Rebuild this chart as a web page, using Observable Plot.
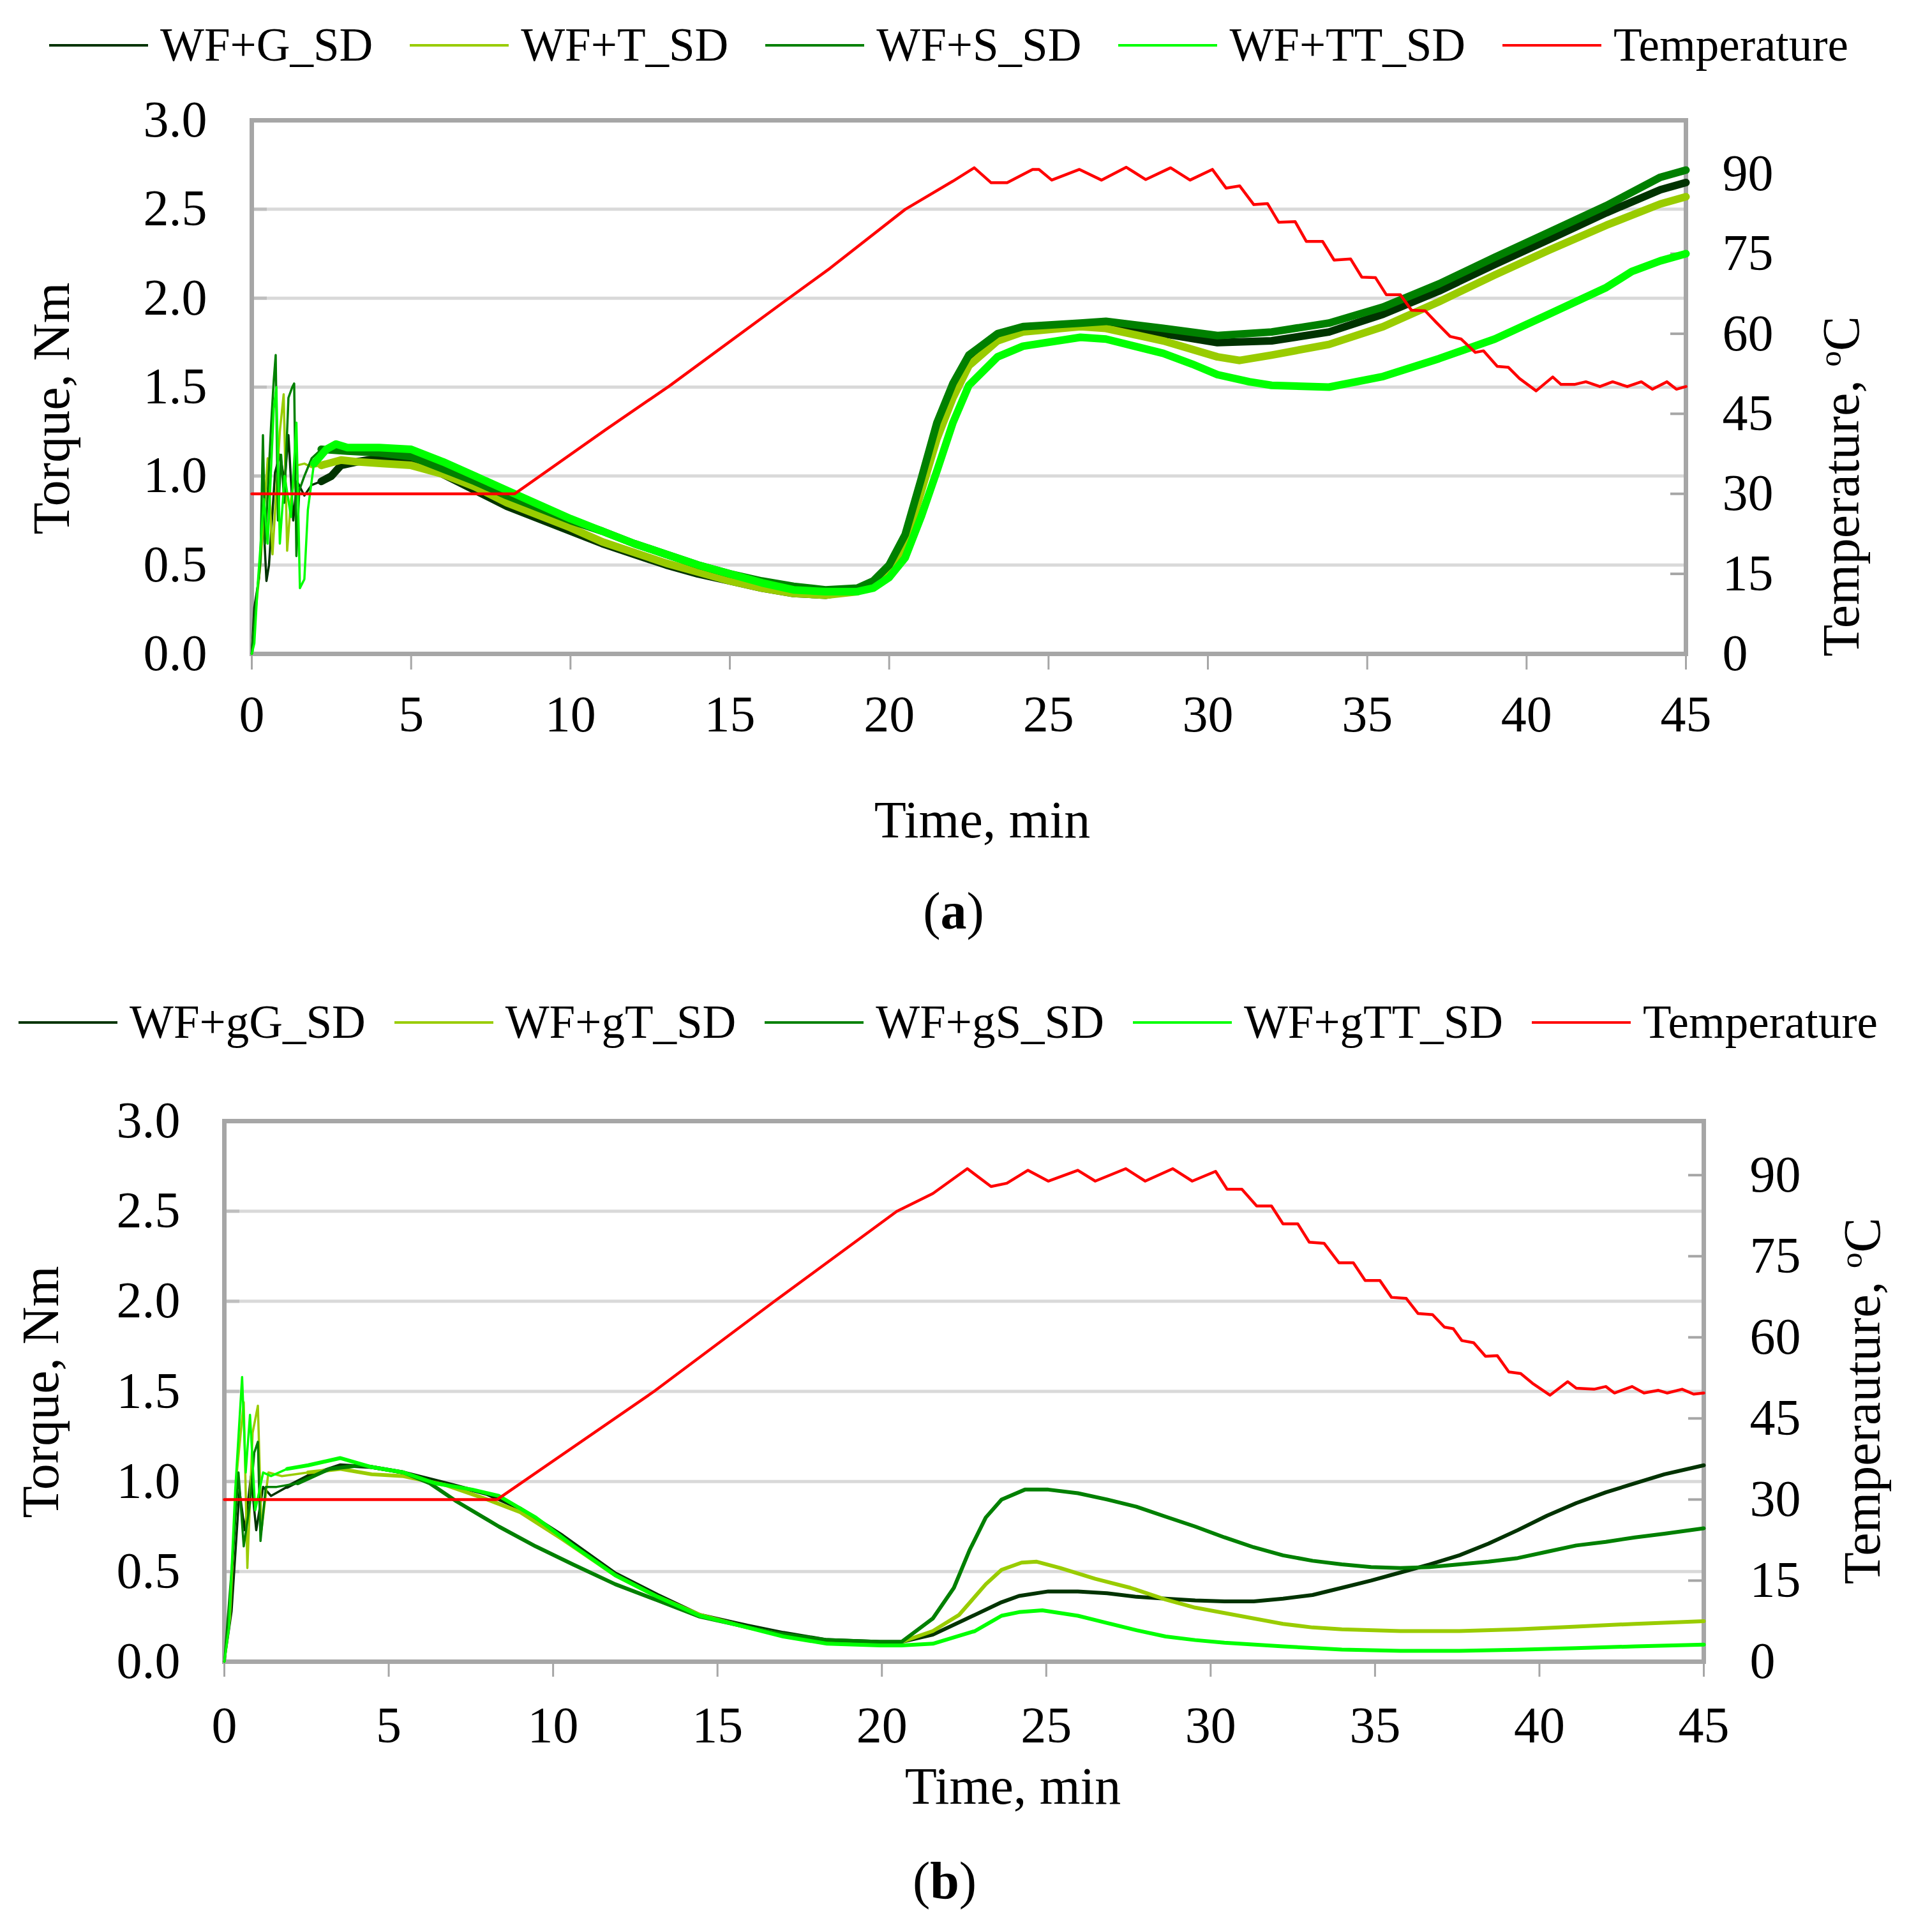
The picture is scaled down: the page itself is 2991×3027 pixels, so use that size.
<!DOCTYPE html>
<html>
<head>
<meta charset="utf-8">
<script src="https://cdn.jsdelivr.net/npm/d3@7"></script>
<script src="https://cdn.jsdelivr.net/npm/@observablehq/plot@0.6"></script>
<style>
  body { margin: 0; background: #fff; }
  #page { position: relative; width: 2991px; height: 3027px; background: #fff; overflow: hidden;
          font-family: "Liberation Serif", "Times New Roman", serif; color: #000; }
  .chart { position: absolute; left: 0; }
  .legend { position: absolute; height: 100px; display: flex; align-items: center; font-size: 73px; white-space: nowrap; }
  .legend .item { display: flex; align-items: center; }
  .legend .sw { width: 155px; height: 4px; margin-right: 19px; }
  .lbl { position: absolute; font-size: 82px; white-space: nowrap; transform: translate(-50%, -50%); }
  .rot { transform: translate(-50%, -50%) rotate(-90deg); }
  sup { font-size: 0.6em; }
</style>
</head>
<body>
<div id="page">
  <div class="legend" id="legA" style="left:77px; top:21px;"></div>
  <div class="chart" id="chartA" style="top:150px;"></div>
  <div class="lbl rot" style="left:81px; top:640px;">Torque, Nm</div>
  <div class="lbl rot" style="left:2885px; top:762px;">Temperature, <sup>o</sup>C</div>
  <div class="lbl" style="left:1539px; top:1285px;">Time, min</div>
  <div class="lbl" style="left:1494px; top:1428px;">(<b>a</b>)</div>

  <div class="legend" id="legB" style="left:29px; top:1552px;"></div>
  <div class="chart" id="chartB" style="top:1700px;"></div>
  <div class="lbl rot" style="left:64px; top:2181px;">Torque, Nm</div>
  <div class="lbl rot" style="left:2918px; top:2195px;">Temperauture, <sup>o</sup>C</div>
  <div class="lbl" style="left:1587px; top:2799px;">Time, min</div>
  <div class="lbl" style="left:1480px; top:2947px;">(<b>b</b>)</div>
</div>
<script>
// ticks
const timeTicks = [0, 5, 10, 15, 20, 25, 30, 35, 40, 45];
const torqueTicks = [0, 0.5, 1.0, 1.5, 2.0, 2.5, 3.0];
const tempTicks = [0, 15, 30, 45, 60, 75, 90];

// series names / colours
const namesA = ["WF+G_SD", "WF+T_SD", "WF+S_SD", "WF+TT_SD", "Temperature"];
const namesB = ["WF+gG_SD", "WF+gT_SD", "WF+gS_SD", "WF+gTT_SD", "Temperature"];
const colors = ["#003300", "#99cc00", "#008000", "#00ff00", "#ff0000"];

// (a) torque, [time min, Nm]
const aG = [[0,0],[0.08,0.26],[0.23,0.43],[0.35,0.81],[0.46,0.41],[0.54,0.5],[0.73,1.02],[0.88,1.12],[1.03,0.97],[1.15,1.23],[1.3,0.75],[1.42,0.97],[1.65,0.89],[1.88,0.95],[2.18,0.97],[2.5,1.0],[2.8,1.06],[3.3,1.08],[4,1.1],[5,1.09],[6,1.01],[7,0.92],[8,0.83],[9,0.76],[10,0.69],[11,0.62],[12,0.56],[13,0.5],[14,0.45],[15,0.41],[16,0.37],[17,0.34],[18,0.33],[19,0.36],[19.5,0.4],[20,0.48],[20.5,0.65],[21,0.96],[21.5,1.28],[22,1.5],[22.5,1.66],[23.4,1.79],[24.2,1.83],[26,1.85],[26.8,1.85],[28.6,1.8],[30.3,1.75],[32,1.76],[33.8,1.81],[35.5,1.91],[37.25,2.04],[39,2.19],[40.7,2.33],[42.5,2.48],[44.2,2.61],[45,2.65]];
const aT = [[0,0],[0.12,0.24],[0.27,0.5],[0.5,1.1],[0.65,0.56],[0.88,1.25],[1.0,1.46],[1.11,0.58],[1.23,0.87],[1.42,1.06],[1.65,1.07],[1.88,1.05],[2.18,1.06],[2.8,1.09],[3.3,1.08],[4.1,1.07],[5,1.06],[6,1.01],[7,0.94],[8,0.85],[9,0.78],[10,0.71],[11,0.63],[12,0.57],[13,0.51],[14,0.46],[15,0.41],[16,0.37],[17,0.34],[18,0.33],[19,0.35],[19.5,0.39],[20,0.46],[20.5,0.61],[21,0.91],[21.5,1.21],[22,1.44],[22.5,1.62],[23.4,1.76],[24.2,1.81],[26,1.84],[26.8,1.83],[28.6,1.76],[30.3,1.67],[31,1.65],[32,1.68],[33.8,1.74],[35.5,1.84],[37.25,1.98],[39,2.13],[40.7,2.27],[42.5,2.41],[44.2,2.53],[45,2.57]];
const aS = [[0,0],[0.12,0.27],[0.27,0.52],[0.35,1.23],[0.42,0.62],[0.61,1.3],[0.69,1.54],[0.75,1.68],[0.82,0.75],[0.92,1.12],[1.02,0.85],[1.15,1.44],[1.27,1.5],[1.33,1.52],[1.4,0.55],[1.49,0.92],[1.65,1.0],[1.88,1.1],[2.18,1.15],[3,1.14],[4,1.13],[5,1.11],[6,1.04],[7,0.97],[8,0.89],[9,0.82],[10,0.75],[11,0.69],[12,0.62],[13,0.56],[14,0.5],[15,0.45],[16,0.41],[17,0.38],[18,0.36],[19,0.37],[19.5,0.41],[20,0.5],[20.5,0.67],[21,0.98],[21.5,1.3],[22,1.52],[22.5,1.68],[23.4,1.8],[24.2,1.84],[26,1.86],[26.8,1.87],[28.6,1.83],[30.3,1.79],[32,1.81],[33.8,1.86],[35.5,1.95],[37.25,2.08],[39,2.23],[40.7,2.37],[42.5,2.52],[44.2,2.68],[45,2.72]];
const aTT = [[0,0],[0.08,0.06],[0.19,0.4],[0.38,0.87],[0.5,0.62],[0.69,1.38],[0.77,1.5],[0.88,0.62],[1.03,1.0],[1.23,0.77],[1.4,1.3],[1.51,0.37],[1.65,0.42],[1.76,0.81],[1.95,1.07],[2.34,1.15],[2.64,1.18],[3,1.16],[4,1.16],[5,1.15],[6,1.08],[7,1.0],[8,0.92],[9,0.84],[10,0.76],[11,0.69],[12,0.62],[13,0.56],[14,0.5],[15,0.45],[16,0.4],[17,0.36],[18,0.35],[19,0.35],[19.5,0.37],[20,0.43],[20.5,0.54],[21,0.77],[21.5,1.03],[22,1.3],[22.5,1.51],[23.4,1.67],[24.2,1.73],[26,1.78],[26.8,1.77],[28.6,1.69],[29.5,1.63],[30.3,1.57],[31.3,1.53],[32,1.51],[33.8,1.5],[35.5,1.56],[37.25,1.66],[39,1.77],[40.7,1.91],[42.5,2.06],[43.3,2.15],[44.2,2.21],[45,2.25]];
// (a) temperature, [time min, °C]
const tempA = [[0,30],[8.25,30],[11.1,42],[13.1,50.2],[16.7,66],[18.15,72.3],[20.5,83.3],[22.0,88.6],[22.67,91.1],[23.2,88.3],[23.7,88.3],[24.5,90.8],[24.7,90.8],[25.1,88.8],[25.97,90.8],[26.66,88.8],[27.44,91.2],[28.05,88.9],[28.83,91.1],[29.44,88.8],[30.14,90.8],[30.57,87.3],[31.0,87.7],[31.44,84.2],[31.87,84.4],[32.22,80.9],[32.74,81.0],[33.09,77.3],[33.6,77.3],[33.96,73.8],[34.48,74.0],[34.83,70.6],[35.26,70.5],[35.6,67.3],[36.04,67.3],[36.39,64.4],[36.82,64.3],[37.17,62.1],[37.6,59.5],[37.95,59.0],[38.39,56.5],[38.65,56.8],[39.08,53.9],[39.43,53.7],[39.78,51.6],[40.3,49.3],[40.82,51.9],[41.08,50.5],[41.5,50.5],[41.86,51.0],[42.3,50.1],[42.7,51.0],[43.16,50.1],[43.6,51.0],[43.95,49.6],[44.4,51.0],[44.7,49.6],[45,50.1]];

// (b) torque, [time min, Nm]
const bG = [[0,0],[0.22,0.28],[0.46,0.95],[0.62,0.73],[0.81,1.03],[0.97,0.73],[1.18,0.97],[1.42,0.92],[1.91,0.97],[2.55,1.03],[3.52,1.09],[4.48,1.08],[5.45,1.05],[6.74,0.99],[8.0,0.93],[9.0,0.85],[10.28,0.7],[11.89,0.49],[13.18,0.37],[14.46,0.26],[15.91,0.2],[17,0.16],[18.33,0.12],[19.94,0.11],[20.6,0.11],[21.55,0.15],[22.83,0.26],[23.64,0.33],[24.17,0.365],[25.06,0.39],[25.96,0.39],[26.85,0.38],[27.74,0.36],[28.63,0.35],[29.53,0.34],[30.42,0.335],[31.31,0.335],[32.2,0.35],[33.1,0.37],[33.99,0.41],[34.88,0.45],[35.77,0.495],[36.66,0.54],[37.56,0.59],[38.45,0.655],[39.34,0.73],[40.23,0.81],[41.12,0.88],[42.02,0.94],[42.91,0.99],[43.8,1.04],[45,1.09]];
const bT = [[0,0],[0.17,0.24],[0.38,1.05],[0.59,1.44],[0.7,0.52],[0.86,1.27],[1.02,1.42],[1.13,0.73],[1.34,1.05],[1.75,1.03],[2.55,1.05],[3.52,1.07],[4.48,1.04],[5.45,1.03],[6.74,0.98],[8.0,0.9],[9.0,0.83],[10.28,0.68],[11.89,0.48],[13.18,0.36],[14.46,0.26],[15.91,0.19],[17,0.15],[18.33,0.11],[19.94,0.1],[20.6,0.11],[21.55,0.17],[22.35,0.26],[23.16,0.43],[23.64,0.51],[24.25,0.55],[24.71,0.555],[25.42,0.52],[26.49,0.46],[27.56,0.41],[28.63,0.345],[29.53,0.3],[30.42,0.27],[31.31,0.24],[32.2,0.21],[33.1,0.19],[33.99,0.18],[35.77,0.17],[37.56,0.17],[39.34,0.18],[41.12,0.195],[42.91,0.21],[45,0.225]];
const bS = [[0,0],[0.27,0.62],[0.43,1.05],[0.59,0.64],[0.78,0.88],[0.91,1.16],[1.02,1.22],[1.1,0.67],[1.26,0.97],[1.59,0.97],[2.23,0.99],[3.2,1.07],[4.16,1.09],[5.45,1.05],[6.25,0.99],[7.06,0.89],[8.35,0.75],[9.47,0.64],[10.6,0.54],[11.89,0.43],[13.18,0.34],[14.46,0.25],[16.72,0.16],[18.33,0.12],[19.94,0.11],[20.6,0.11],[21.55,0.24],[22.19,0.41],[22.67,0.62],[23.16,0.8],[23.64,0.9],[24.35,0.955],[25.06,0.955],[25.96,0.935],[26.85,0.9],[27.74,0.86],[28.63,0.805],[29.53,0.75],[30.42,0.69],[31.31,0.635],[32.2,0.59],[33.1,0.56],[33.99,0.54],[34.88,0.525],[35.77,0.52],[36.66,0.525],[37.56,0.54],[38.45,0.555],[39.34,0.575],[40.23,0.61],[41.12,0.645],[42.02,0.665],[42.91,0.69],[43.8,0.71],[45,0.74]];
const bTT = [[0,0],[0.14,0.19],[0.33,0.95],[0.54,1.58],[0.65,1.05],[0.78,1.37],[0.94,0.84],[1.18,1.05],[1.42,1.03],[1.91,1.07],[2.55,1.09],[3.52,1.13],[4.48,1.08],[5.45,1.05],[6.42,0.99],[7.54,0.955],[8.35,0.92],[9.47,0.8],[10.6,0.645],[11.89,0.48],[13.18,0.36],[14.46,0.255],[15.91,0.19],[17,0.14],[18.33,0.1],[19.94,0.09],[20.6,0.09],[21.55,0.1],[22.83,0.17],[23.64,0.255],[24.17,0.275],[24.88,0.285],[25.96,0.255],[26.85,0.215],[27.74,0.175],[28.63,0.14],[29.53,0.12],[30.42,0.105],[32.2,0.085],[33.99,0.067],[35.77,0.06],[37.56,0.06],[39.34,0.066],[41.12,0.075],[42.91,0.085],[45,0.095]];
// (b) temperature, [time min, °C]
const tempB = [[0,30],[8.3,30],[13.07,50],[16.74,66.7],[20.45,83.3],[21.55,86.6],[22.6,91.2],[23.32,87.9],[23.8,88.5],[24.44,90.9],[25.06,88.9],[25.96,90.9],[26.49,88.9],[27.42,91.2],[28.01,88.9],[28.85,91.2],[29.44,88.9],[30.15,90.7],[30.5,87.4],[30.95,87.4],[31.4,84.3],[31.85,84.3],[32.2,81.0],[32.65,81.0],[33.0,77.6],[33.45,77.4],[33.9,73.8],[34.34,73.8],[34.7,70.5],[35.15,70.5],[35.5,67.4],[35.95,67.2],[36.31,64.4],[36.75,64.2],[37.11,61.9],[37.38,61.6],[37.64,59.4],[38.0,59.0],[38.36,56.5],[38.72,56.6],[39.07,53.6],[39.43,53.3],[39.79,51.5],[40.32,49.3],[40.86,51.8],[41.12,50.6],[41.66,50.4],[42.02,50.9],[42.28,49.7],[42.82,50.9],[43.18,49.7],[43.62,50.2],[43.89,49.7],[44.34,50.4],[44.69,49.5],[45,49.7]];

// temperature axis 0-100 °C sits on torque axis 0-3 Nm
const k = 3 / 100;

function legend(id, names, gap) {
  const box = d3.select(id);
  names.forEach((n, i) => {
    const it = box.append("div").attr("class", "item").style("margin-left", i ? gap + "px" : "0px");
    it.append("div").attr("class", "sw").style("background", colors[i]);
    it.append("span").text(n);
  });
}

function chart(id, series, temp, o) {
  const W = 2991;
  const plotW = W - o.ml - o.mr;
  const marks = [
    Plot.gridY(torqueTicks.slice(1, -1), {stroke: "#d9d9d9", strokeOpacity: 1, strokeWidth: 5}),
    Plot.ruleY(torqueTicks.slice(1, -1), {insetRight: plotW - 24, stroke: "#bfbfbf", strokeWidth: 5}),
    Plot.ruleY(tempTicks.slice(1).map(c => c * k), {insetLeft: plotW - 24, stroke: "#a6a6a6", strokeWidth: 4}),
    Plot.frame({stroke: "#a6a6a6", strokeWidth: 7}),
    Plot.axisX(timeTicks, {tickSize: o.xTick, tickPadding: o.xPad, stroke: "#a6a6a6", strokeWidth: 3,
      fill: "black", fontSize: 80, label: null}),
    Plot.axisY(torqueTicks, {anchor: "left", tickSize: 0, tickPadding: o.padL, tickFormat: d3.format(".1f"),
      fill: "black", fontSize: 80, label: null}),
    Plot.axisY(tempTicks.map(c => c * k), {anchor: "right", tickSize: 0, tickPadding: o.padR,
      tickFormat: d => Math.round(d / k), fill: "black", fontSize: 80, label: null})
  ];
  series.forEach((s, i) => {
    // start-up spikes are thin, the noisy body is drawn as a wider band
    const cut = s.findIndex(d => d[0] >= o.split);
    marks.push(Plot.line(s.slice(0, cut + 1), {x: d => d[0], y: d => d[1], stroke: colors[i], strokeWidth: 3.5}));
    marks.push(Plot.line(s.slice(cut), {x: d => d[0], y: d => d[1], stroke: colors[i], strokeWidth: o.lw}));
  });
  marks.push(Plot.line(temp, {x: d => d[0], y: d => d[1] * k, stroke: colors[4], strokeWidth: 4.5}));

  const svg = Plot.plot({
    width: W,
    height: o.h,
    marginTop: o.mt,
    marginBottom: o.mb,
    marginLeft: o.ml,
    marginRight: o.mr,
    x: {domain: [0, 45]},
    y: {domain: [0, 3]},
    style: {fontFamily: "Liberation Serif", fontSize: "80px", color: "black", background: "transparent", overflow: "visible"},
    marks
  });
  d3.select(id).append(() => svg);
}

legend("#legA", namesA, 58);
legend("#legB", namesB, 45);

chart("#chartA", [aG, aT, aS, aTT], tempA,
  {h: 1100, mt: 38, mb: 226, ml: 394, mr: 350, xTick: 25, xPad: 40, padL: 70, padR: 57, lw: 12, split: 1.9});
chart("#chartB", [bG, bT, bS, bTT], tempB,
  {h: 1100, mt: 56, mb: 197, ml: 351, mr: 322, xTick: 24, xPad: 46, padL: 69, padR: 72, lw: 6, split: 1.9});
</script>
</body>
</html>
